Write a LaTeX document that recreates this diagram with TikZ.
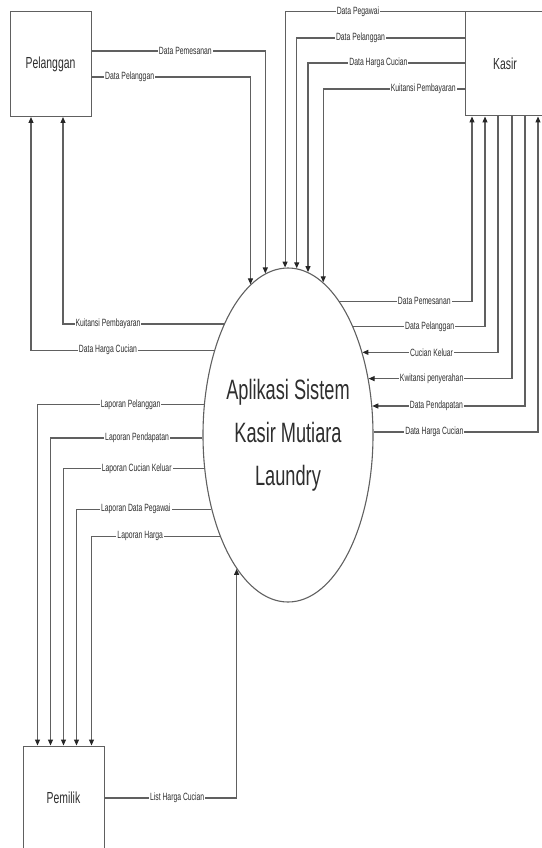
\documentclass[tikz,border=0pt]{standalone}
\usepackage{fontspec}
\setmainfont[FakeStretch=0.65]{Liberation Sans}
\usepackage{xcolor}
\usepackage{tikz}
\usetikzlibrary{arrows.meta,shapes.geometric}

\definecolor{lineg}{HTML}{606060}
\definecolor{textg}{HTML}{2E2E2E}

\tikzset{
  entity/.style={draw=lineg, line width=1pt, minimum width=81pt, minimum height=105pt,
    inner sep=0pt, text=textg, font=\fontsize{16}{19}\selectfont},
  flow/.style={draw=lineg, line width=1.1pt, -{Triangle[length=6pt,width=5pt,color=black!85]}},
  lbl/.style={fill=white, inner sep=1pt, text=textg, font=\fontsize{10.5}{12}\selectfont},
}

\begin{document}
\begin{tikzpicture}[x=1pt,y=-1pt]
		\useasboundingbox (0,0) rectangle (541,848);
		% External entities
		\node[entity] (pel) at (50.5,64) {Pelanggan};
		\node[entity, minimum width=80pt, minimum height=104pt] (kas) at (505,64) {Kasir};
		\node[entity, minimum height=104pt] (pem) at (63.5,798) {Pemilik};
		% The process
		\node[ellipse, draw=lineg, line width=1.1pt, minimum width=170pt, minimum height=334pt,
			inner sep=-4pt, align=center, text=textg, font=\fontsize{28}{43}\selectfont]
			(sys) at (288,435) {Aplikasi Sistem\\Kasir Mutiara\\Laundry};
		% Pelanggan <-> process
		\draw[flow] ([yshift=13]pel.east) -| node[lbl, pos=0.27] (l1) {Data Pemesanan} (sys.98.9);
		\draw[flow] ([yshift=-13]pel.east) -| node[lbl, pos=0.12] (l2) {Data Pelanggan} (sys.104.7);
		\draw[flow] (sys.120.6) -| node[lbl, pos=0.36] (l3) {Kuitansi Pembayaran} ([xshift=12.5]pel.south);
		\draw[flow] (sys.131.6) -| node[lbl, pos=0.29] (l4) {Data Harga Cucian} ([xshift=-19.5]pel.south);
		% Kasir -> process (top)
		\draw[flow] (kas.north east) -| node[lbl, pos=0.36] (l5) {Data Pegawai} (sys.91);
		\draw[flow] ([yshift=26]kas.west) -| node[lbl, pos=0.31] (l6) {Data Pelanggan} (sys.87.6);
		\draw[flow] ([yshift=1]kas.west) -| node[lbl, pos=0.275] (l7) {Data Harga Cucian} (sys.83.3);
		\draw[flow] ([yshift=-25]kas.west) -| node[lbl, pos=0.146] (l8) {Kuitansi Pembayaran} (sys.77.9);
		% Kasir <-> process (right)
		\draw[flow] (sys.69.7) -| node[lbl, pos=0.32] (l9) {Data Pemesanan} ([xshift=-33]kas.south);
		\draw[flow] (sys.59.4) -| node[lbl, pos=0.29] (l10) {Data Pelanggan} ([xshift=-20]kas.south);
		\draw[flow] ([xshift=-7]kas.south) |- node[lbl, pos=0.745] (l11) {Cucian Keluar} (sys.48.4);
		\draw[flow] ([xshift=7]kas.south) |- node[lbl, pos=0.78] (l12) {Kwitansi penyerahan} (sys.35.5);
		\draw[flow] ([xshift=20]kas.south) |- node[lbl, pos=0.79] (l13) {Data Pendapatan} (sys.19.7);
		\draw[flow] (sys.2) -| node[lbl, pos=0.185] (l14) {Data Harga Cucian} ([xshift=33]kas.south);
		% Process -> Pemilik
		\draw[flow] (sys.160.3) -| node[lbl, pos=0.22] (l15) {Laporan Pelanggan} ([xshift=-26]pem.north);
		\draw[flow] (sys.182) -| node[lbl, pos=0.215] (l16) {Laporan Pendapatan} ([xshift=-13]pem.north);
		\draw[flow] (sys.202.2) -| node[lbl, pos=0.24] (l17) {Laporan Cucian Keluar} (pem.north);
		\draw[flow] (sys.224.2) -| node[lbl, pos=0.28] (l18) {Laporan Data Pegawai} ([xshift=13]pem.north);
		\draw[flow] (sys.236.2) -| node[lbl, pos=0.31] (l19) {Laporan Harga} ([xshift=28]pem.north);
		% Pemilik -> process
		\draw[flow] (pem.east) -| node[lbl, pos=0.275] (l20) {List Harga Cucian} (sys.249.1);
\end{tikzpicture}
\end{document}
